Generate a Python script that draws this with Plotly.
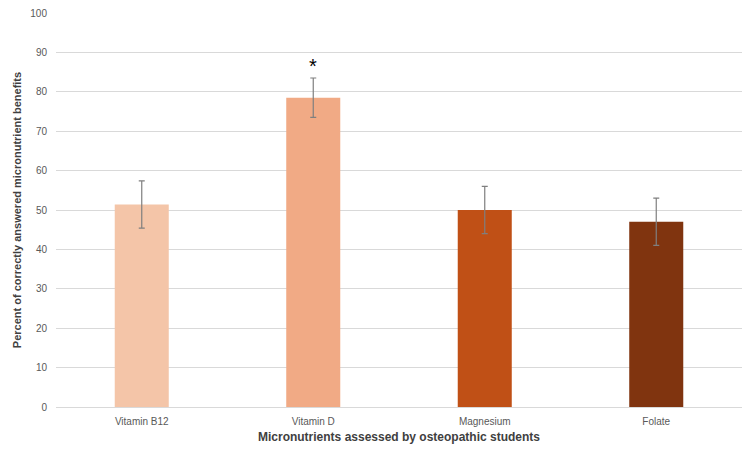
import plotly.graph_objects as go

categories = ["Vitamin B12", "Vitamin D", "Magnesium", "Folate"]
values = [51.4, 78.5, 50.0, 47.0]
errors = [6.0, 5.0, 6.0, 6.0]
colors = ["#F4C5A8", "#F1AA85", "#C05016", "#80340F"]
star_category = "Vitamin D"
star_value = 86.5

fig = go.Figure()
fig.add_trace(go.Bar(
    x=categories, y=values,
    marker=dict(color=colors, line=dict(width=0)),
    width=0.315,
    error_y=dict(type="data", array=errors, visible=True, color="#7F7F7F", thickness=1.2, width=3),
))
fig.add_annotation(x=star_category, y=star_value, text="*", showarrow=False,
                   font=dict(size=20, color="#000000", family="Liberation Sans"), yanchor="middle")

fig.update_layout(
    width=750, height=456,
    margin=dict(l=56, r=8, t=13, b=49),
    plot_bgcolor="white", paper_bgcolor="white",
    showlegend=False,
    font=dict(family="Liberation Sans", color="#595959", size=10),
    bargap=0.685,
)
fig.update_xaxes(
    showgrid=False, showline=True, linecolor="#D9D9D9", linewidth=1,
    ticks="", ticklabelstandoff=5, tickfont=dict(size=10, color="#595959"),
    title=dict(text="<b>Micronutrients assessed by osteopathic students</b>",
               font=dict(size=12, color="#404040"), standoff=6),
)
fig.update_yaxes(
    range=[0, 100], dtick=10, showgrid=True, gridcolor="#D9D9D9", gridwidth=1,
    zeroline=False, showline=False, ticks="", ticklabelstandoff=8,
    tickfont=dict(size=10, color="#595959"),
    title=dict(text="<b>Percent of correctly answered micronutrient benefits</b>",
               font=dict(size=11, color="#404040"), standoff=6),
)
fig.write_html("out.html")
